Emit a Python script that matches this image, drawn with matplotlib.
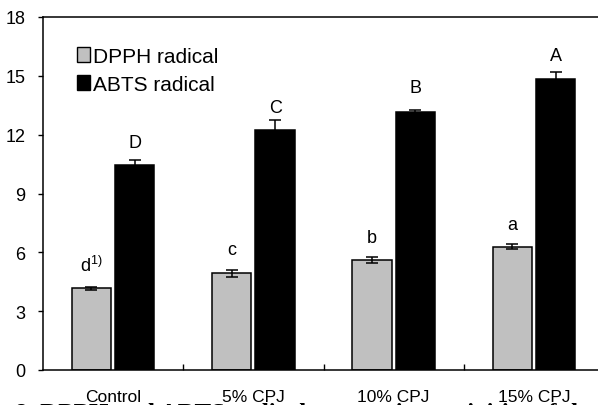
import matplotlib
matplotlib.use("Agg")
import matplotlib.pyplot as plt
import numpy as np
from matplotlib.patches import Patch

plt.rcParams['font.family'] = ['Liberation Sans', 'DejaVu Sans']
plt.rcParams['mathtext.fontset'] = 'custom'
plt.rcParams['mathtext.rm'] = 'Liberation Sans'

categories = ["Control", "5% CPJ", "10% CPJ", "15% CPJ"]
dpph = [4.17, 4.94, 5.60, 6.28]
dpph_err = [0.08, 0.18, 0.14, 0.13]
abts = [10.43, 12.26, 13.14, 14.82]
abts_err = [0.30, 0.47, 0.12, 0.36]
dpph_letters = [r"d$^{\mathrm{1)}}$", "c", "b", "a"]
dpph_letter_y = [5.35, 6.13, 6.76, 7.44]
abts_letters = ["D", "C", "B", "A"]
abts_letter_y = [11.60, 13.38, 14.39, 16.04]
yticks = [0, 3, 6, 9, 12, 15, 18]

fig = plt.figure(figsize=(5.98, 4.06), dpi=100)
ax = fig.add_axes([43/598, 35/406, 561/598, 353/406])

x = np.arange(len(categories))
w = 0.28
off = 0.155
ekw = dict(ecolor='black', elinewidth=1.1, capthick=1.1)
ax.bar(x - off, dpph, w, color='#c0c0c0', edgecolor='black', linewidth=1.1,
       yerr=dpph_err, capsize=4.5, error_kw=ekw, zorder=2)
ax.bar(x + off, abts, w, color='black', edgecolor='black', linewidth=1.1,
       yerr=abts_err, capsize=4.5, error_kw=ekw, zorder=2)

for xi, lab, yy in zip(x, dpph_letters, dpph_letter_y):
    ax.text(xi - off, yy, lab, ha='center', va='center', fontsize=13)
for xi, lab, yy in zip(x, abts_letters, abts_letter_y):
    ax.text(xi + off, yy, lab, ha='center', va='center', fontsize=13)

ax.set_xlim(-0.5, len(categories) - 0.5)
ax.set_ylim(0, 18)
ax.set_yticks(yticks)
ax.set_yticklabels([str(t) for t in yticks])
ax.set_xticks(x)
ax.set_xticklabels(categories)
ax.set_xticks(np.arange(0.5, len(categories) - 0.5, 1), minor=True)
ax.tick_params(axis='x', which='major', length=0, pad=13.5, labelsize=12.5)
ax.tick_params(axis='x', which='minor', direction='in', length=4.5, width=1)
ax.tick_params(axis='y', direction='out', length=3.5, width=1, pad=9, labelsize=13)
for s in ['left', 'bottom', 'top']:
    ax.spines[s].set_linewidth(1.1)
ax.spines['right'].set_visible(False)

handles = [Patch(facecolor='#c0c0c0', edgecolor='black', linewidth=1.0),
           Patch(facecolor='black', edgecolor='black')]
ax.legend(handles, ["DPPH radical", "ABTS radical"], loc='upper left',
          bbox_to_anchor=(0.045, 0.94), frameon=False, fontsize=15,
          handlelength=0.65, handleheight=0.7, handletextpad=0.15,
          labelspacing=0.45, borderaxespad=0)

fig.text(15/598, -0.037, "8. DPPH and ABTS radical scavenging activities of the",
         family='Liberation Serif', fontweight='bold', fontsize=18, va='baseline', ha='left')

fig.savefig("out.png", dpi=100)
